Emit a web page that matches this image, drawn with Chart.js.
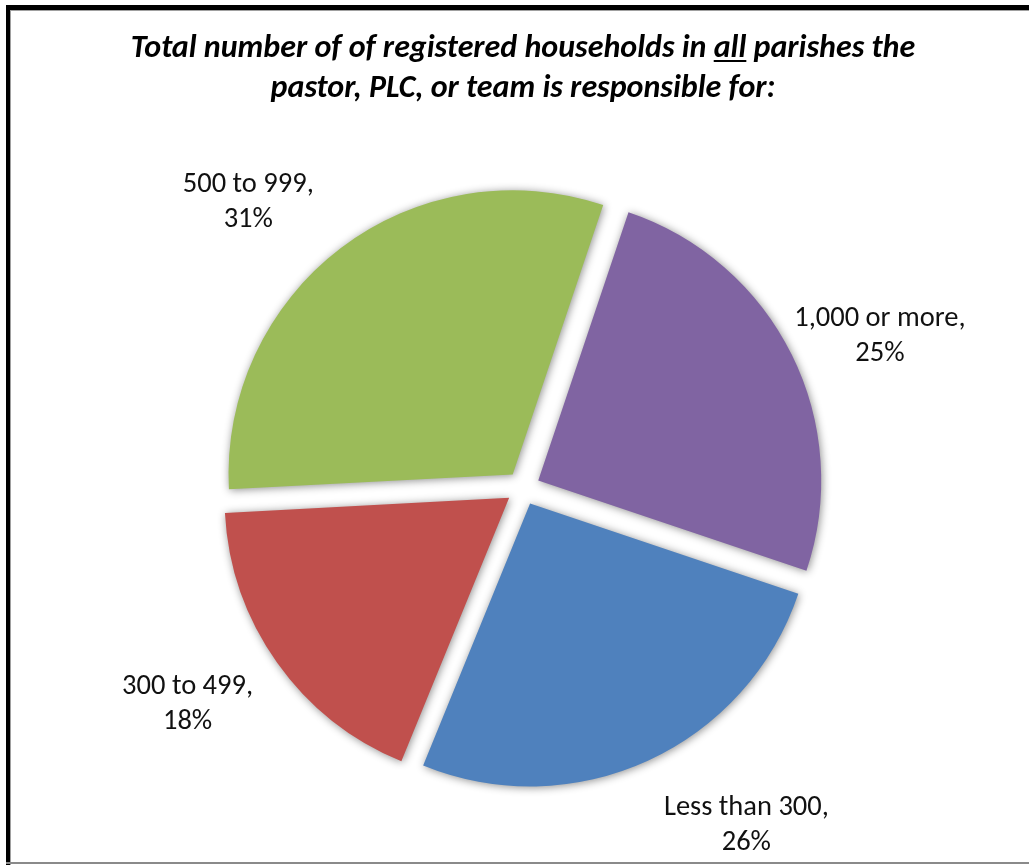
<!DOCTYPE html>
<html>
<head>
<meta charset="utf-8">
<title>Registered households</title>
<script src="https://cdn.jsdelivr.net/npm/chart.js@4/dist/chart.umd.min.js"></script>
<style>
  html, body { margin: 0; padding: 0; background: #ffffff; }
  #wrap { position: relative; width: 1029px; height: 865px; overflow: hidden; background: #fff; }
  #pie { position: absolute; left: 0; top: 0; }
  .edge { position: absolute; }
  #title {
    position: absolute; left: 0; width: 1046px; top: 27px;
    text-align: center; font-family: Carlito, Calibri, Lato, sans-serif;
    font-weight: bold; font-style: italic; font-size: 32px; line-height: 40px; color: #000;
  }
  #title u { text-decoration-thickness: 2px; text-underline-offset: 3px; }
</style>
</head>
<body>
<div id="wrap">
  <canvas id="pie" width="1029" height="865"></canvas>
  <div class="edge" style="left:6px;top:5px;right:0;height:5px;background:#000"></div>
  <div class="edge" style="left:10px;top:10px;right:0;height:1px;background:#a0a0a0"></div>
  <div class="edge" style="left:6px;top:5px;bottom:0;width:4px;background:#000"></div>
  <div class="edge" style="left:10px;top:10px;bottom:0;width:1px;background:#a0a0a0"></div>
  <div class="edge" style="left:6px;right:0;top:862px;height:2px;background:#8a8a8a"></div>
  <div id="title">Total number of of registered households in <u>all</u> parishes the<br>pastor, PLC, or team is responsible for:</div>
</div>
<script>
// Household-size bands, clockwise from the top
const categories = ['1,000 or more', 'Less than 300', '300 to 499', '500 to 999'];
const shares = [25, 26, 18, 31];
const sliceColors = ['#8064A2', '#4F81BD', '#C0504D', '#9BBB59'];

// Where each outside label sits: angular nudge (degrees) from the slice's
// mid-angle and distance as a multiple of the pie radius
const labelPlacement = [
  { turn: 3.4, reach: 1.37 },
  { turn: -8.9, reach: 1.43 },
  { turn: 2.6, reach: 1.41 },
  { turn: -6.7, reach: 1.40 }
];

const labelFont = '28.5px Carlito, Calibri, Lato, sans-serif';

const sliceShadow = {
  id: 'sliceShadow',
  beforeDatasetsDraw(chart) {
    const ctx = chart.ctx;
    ctx.save();
    ctx.shadowColor = 'rgba(0,0,0,0.45)';
    ctx.shadowBlur = 8;
    ctx.shadowOffsetX = 1;
    ctx.shadowOffsetY = 1;
  },
  afterDatasetsDraw(chart) {
    chart.ctx.restore();
  }
};

const outsideLabels = {
  id: 'outsideLabels',
  afterDraw(chart) {
    const ctx = chart.ctx;
    const meta = chart.getDatasetMeta(0);
    ctx.save();
    ctx.font = labelFont;
    ctx.fillStyle = '#111';
    ctx.textAlign = 'center';
    ctx.textBaseline = 'middle';
    meta.data.forEach((arc, i) => {
      const p = arc.getProps(['x', 'y', 'startAngle', 'endAngle', 'outerRadius'], true);
      const place = labelPlacement[i];
      const a = (p.startAngle + p.endAngle) / 2 + place.turn * Math.PI / 180;
      const d = p.outerRadius * place.reach;
      const cx = p.x + Math.cos(a) * d;
      const cy = p.y + Math.sin(a) * d;
      const lineH = 35;
      ctx.fillText(categories[i] + ',', cx, cy - lineH / 2);
      ctx.fillText(shares[i] + '%', cx, cy + lineH / 2);
    });
    ctx.restore();
  }
};

new Chart(document.getElementById('pie'), {
  type: 'pie',
  data: {
    labels: categories,
    datasets: [{
      data: shares,
      backgroundColor: sliceColors,
      borderWidth: 0,
      // arcs translate by a quarter of this value, giving a 17px pull-out
      offset: 68,
      hoverOffset: 0
    }]
  },
  options: {
    responsive: false,
    devicePixelRatio: 1,
    animation: false,
    rotation: 18.6,
    radius: 283,
    layout: { padding: { left: 17, right: 0, top: 111, bottom: 0 } },
    plugins: {
      legend: { display: false },
      tooltip: { enabled: false },
      title: { display: false }
    },
    events: []
  },
  plugins: [sliceShadow, outsideLabels]
});
</script>
</body>
</html>
